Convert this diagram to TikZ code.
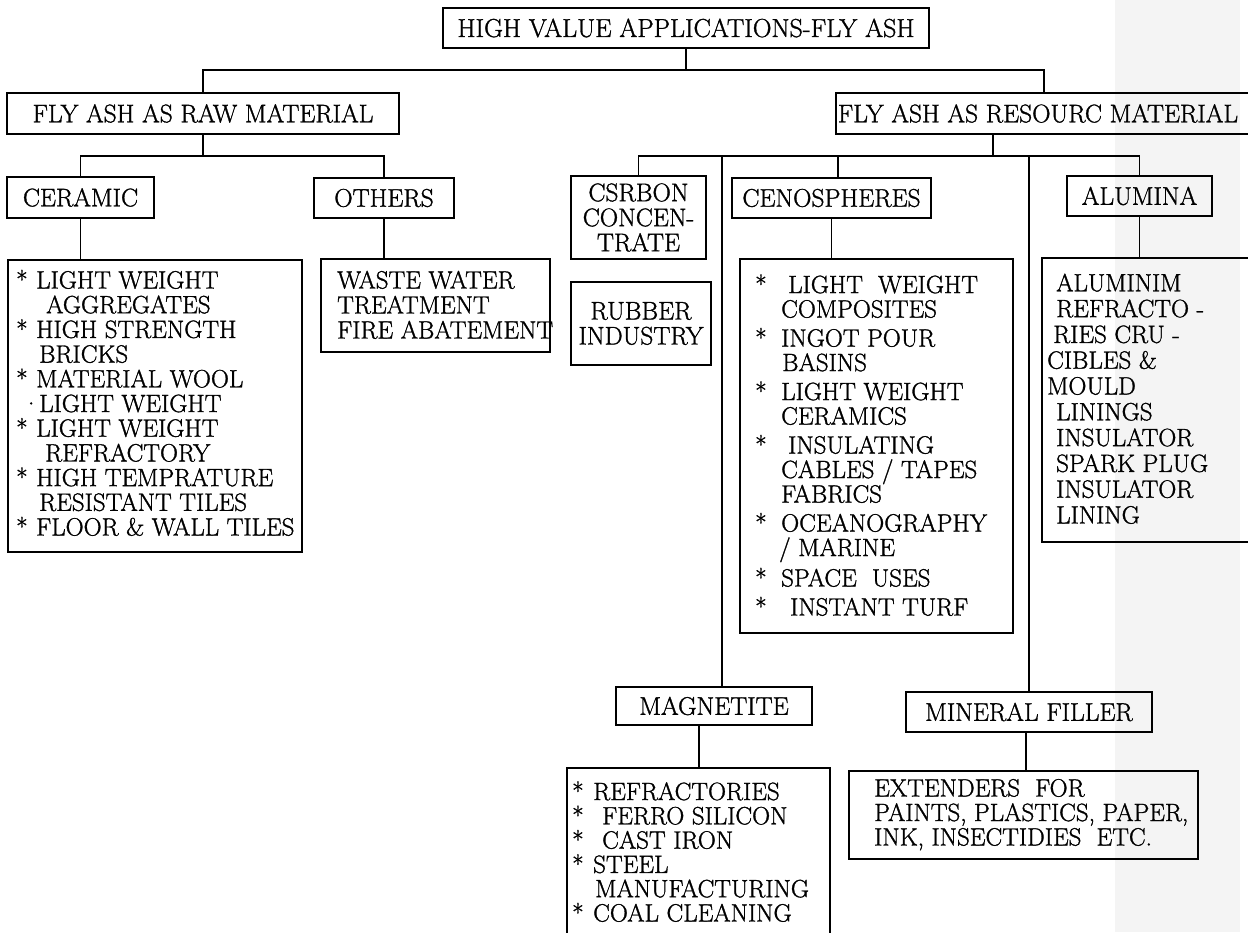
\documentclass[tikz,border=0pt]{standalone}
\usepackage{fontspec}
\setmainfont{lmroman17-regular}[Extension=.otf, FakeBold=1.2]
\usetikzlibrary{calc}
\newcommand\fs{\fontsize{25.5}{25}\selectfont}
\newcommand\stc[1]{\makebox[#1][l]{*}}
\tikzset{
  bx/.style={draw=black, line width=1.6pt, rectangle, inner sep=0pt, font=\fs, align=center},
  obx/.style={draw=none, rectangle, inner sep=0pt},
  cn/.style={draw=black, line width=1.5pt},
  lt/.style={inner sep=0pt, align=left, anchor=base west},
}
\begin{document}
\begin{tikzpicture}[x=1pt,y=-1pt]
\useasboundingbox (0,0) rectangle (1248,932);
\fill[gray!9] (1115,0) rectangle (1240,932);

% header boxes
\node[bx, minimum width=486pt, minimum height=40pt, font=\fontsize{26}{25}\selectfont] (title) at (686,28) {HIGH VALUE APPLICATIONS-FLY ASH};
\node[bx, minimum width=392pt, minimum height=41pt] (raw) at (203,113.5) {FLY ASH AS RAW MATERIAL};
\node[obx, minimum width=416pt, minimum height=41pt] (res) at (1044,113.5) {};
\node[font=\fs, inner sep=0pt] (restext) at (1038,113.5) {FLY ASH AS RESOURC MATERIAL};
\draw[line width=1.6pt] (res.north east) -- (res.north west) -- (res.south west) -- (res.south east);

\node[bx, minimum width=147pt, minimum height=41pt] (ceramic) at (80.5,197.5) {CERAMIC};
\node[bx, minimum width=140pt, minimum height=40pt] (others) at (384,198) {OTHERS};

\node[bx, minimum width=135pt, minimum height=83pt] (csrbon) at (638.5,217.5) {CSRBON\\CONCEN-\\TRATE};
\node[bx, minimum width=140pt, minimum height=83pt] (rubber) at (641,323.5) {RUBBER\\INDUSTRY};
\node[bx, minimum width=199pt, minimum height=40pt] (ceno) at (831.5,198) {CENOSPHERES};
\node[bx, minimum width=145pt, minimum height=40pt] (alumina) at (1139.5,196) {ALUMINA};

\node[bx, minimum width=196pt, minimum height=38pt] (mag) at (714,706) {MAGNETITE};
\node[bx, minimum width=246pt, minimum height=40pt] (mineral) at (1029,712) {MINERAL FILLER};

% list boxes
\node[bx, minimum width=294pt, minimum height=292pt] (cerlist) at (155,406) {};
\node[bx, minimum width=229pt, minimum height=93pt] (waste) at (435.5,305.5) {};
\node[bx, minimum width=273pt, minimum height=374pt] (cenolist) at (876.5,446) {};
\node[obx, minimum width=210pt, minimum height=284pt] (alumlist) at (1147,400) {};
\draw[line width=1.6pt] (alumlist.north east) -- (alumlist.north west) -- (alumlist.south west) -- (alumlist.south east);
\node[bx, minimum width=263pt, minimum height=177pt] (maglist) at (698.5,856.5) {};
\node[bx, minimum width=349pt, minimum height=88pt] (ext) at (1023.5,815) {};

% list texts (anchored at the baseline of their last line)
\node[lt, font=\fontsize{25}{24.7}\selectfont] (cert) at (16,535.5) {%
\stc{20pt}LIGHT WEIGHT\\
\hspace*{30pt}AGGREGATES\\
\stc{20pt}HIGH STRENGTH\\
\hspace*{23pt}BRICKS\\
\stc{20pt}MATERIAL WOOL\\
\makebox[23pt][l]{\hspace*{6pt}\textperiodcentered}LIGHT WEIGHT\\
\stc{20pt}LIGHT WEIGHT\\
\hspace*{29pt}REFRACTORY\\
\stc{20pt}HIGH TEMPRATURE\\
\hspace*{23pt}RESISTANT TILES\\
\stc{20pt}FLOOR \& WALL TILES};

\node[lt, font=\fontsize{25}{25}\selectfont] (wastet) at (337,338.5) {WASTE WATER\\TREATMENT\\FIRE ABATEMENT};

\node[lt, font=\fontsize{25}{24.5}\selectfont] (cenot) at (755,615.5) {%
\stc{26pt}\hspace*{7pt}LIGHT\ \ WEIGHT\\
\hspace*{26pt}COMPOSITES\\[4.5pt]
\stc{26pt}INGOT POUR\\
\hspace*{27pt}BASINS\\[4.5pt]
\stc{26pt}LIGHT WEIGHT\\
\hspace*{26pt}CERAMICS\\[4.5pt]
\stc{26pt}\hspace*{7pt}INSULATING\\
\hspace*{26pt}CABLES / TAPES\\
\hspace*{26pt}FABRICS\\[4.5pt]
\stc{26pt}OCEANOGRAPHY\\
\hspace*{24pt}/ MARINE\\[4.5pt]
\stc{26pt}SPACE\ \ USES\\[4.5pt]
\stc{26pt}\hspace*{9pt}INSTANT TURF};

\node[lt, font=\fontsize{25}{25.8}\selectfont] (alumt) at (1047,523.5) {%
\hspace*{9pt}ALUMINIM\\
\hspace*{9pt}REFRACTO -\\
\hspace*{6pt}RIES CRU -\\
CIBLES \&\\
MOULD\\
\hspace*{9pt}LININGS\\
\hspace*{9pt}INSULATOR\\
\hspace*{9pt}SPARK PLUG\\
\hspace*{9pt}INSULATOR\\
\hspace*{9pt}LINING};

\node[lt, font=\fontsize{25}{24.3}\selectfont] (magt) at (572,921.5) {%
\stc{21pt}REFRACTORIES\\
\stc{21pt}\hspace*{9pt}FERRO SILICON\\
\stc{21pt}\hspace*{9pt}CAST IRON\\
\stc{21pt}STEEL\\
\hspace*{23pt}MANUFACTURING\\
\stc{21pt}COAL CLEANING};

\node[lt, font=\fontsize{25}{24.5}\selectfont] (extt) at (874,845.5) {%
EXTENDERS\ \ FOR\\
PAINTS, PLASTICS, PAPER,\\
INK, INSECTIDIES\ \ ETC.};

% junction coordinates
\coordinate (j0) at (686,70);
\coordinate (rawj) at (203,156);
\coordinate (resdrop) at (993,134);
\coordinate (resj) at (993,156);
\coordinate (magtop) at (722,687);
\coordinate (cenotop) at (838,178);
\coordinate (magbot) at (699,725);
\coordinate (minbot) at (1026,732);

% connectors
\draw[cn] (title.south) -- (j0);
\draw[cn] (raw.north) |- (res.north |- j0) -- (res.north);
\draw[cn] (raw.south) -- (rawj);
\draw[cn] (ceramic.north) |- (others.north |- rawj) -- (others.north);
\draw[cn] (ceramic.south) -- (ceramic.south |- cerlist.north);
\draw[cn] (others.south) -- (others.south |- waste.north);

\draw[cn] (resdrop) -- (resj);
\draw[cn] (csrbon.north) |- (alumina.north |- resj) -- (alumina.north);
\draw[cn] (magtop |- resj) -- (magtop);
\draw[cn] (cenotop |- resj) -- (cenotop);
\draw[cn] (mineral.north |- resj) -- (mineral.north);
\draw[cn] (ceno.south) -- (ceno.south |- cenolist.north);
\draw[cn] (alumina.south) -- (alumina.south |- alumlist.north);
\draw[cn] (magbot) -- (magbot |- maglist.north);
\draw[cn] (minbot) -- (minbot |- ext.north);
\end{tikzpicture}
\end{document}
